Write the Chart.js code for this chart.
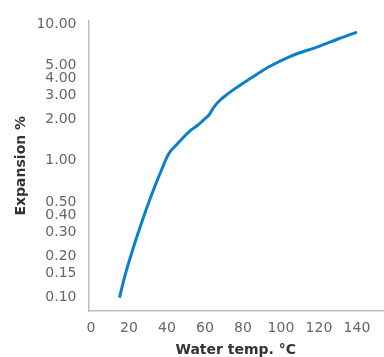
<!DOCTYPE html>
<html>
<head>
<meta charset="utf-8">
<script src="https://cdn.jsdelivr.net/npm/chart.js@4/dist/chart.umd.min.js"></script>
<style>
  html, body { margin: 0; padding: 0; background: #fff; }
  #wrap { width: 384px; height: 357px; }
</style>
</head>
<body>
<div id="wrap"><canvas id="expansionChart"></canvas></div>
<script>
// Water temperature (°C) and expansion (%)
const waterTemps = [15, 18, 22, 28, 32, 37, 41, 45, 52, 56, 60, 62, 65, 68, 72, 76, 84, 93, 105, 120, 130, 140];
const expansionPct = [0.10, 0.147, 0.225, 0.40, 0.57, 0.85, 1.13, 1.31, 1.65, 1.81, 2.03, 2.15, 2.5, 2.78, 3.08, 3.38, 4.0, 4.8, 5.8, 6.85, 7.75, 8.7];

// Axis tick labels
const xTicks = [0, 20, 40, 60, 80, 100, 120, 140];
const yTicks = [0.10, 0.15, 0.20, 0.30, 0.40, 0.50, 1.00, 2.00, 3.00, 4.00, 5.00, 10.00];

document.addEventListener('DOMContentLoaded', () => {
    const ctx = document.getElementById('expansionChart').getContext('2d');
    const points = waterTemps.map((t, i) => ({ x: t, y: expansionPct[i] }));

    new Chart(ctx, {
        type: 'line',
        data: {
            datasets: [{
                data: points,
                borderColor: '#0b7fca',
                borderWidth: 3,
                pointRadius: 0,
                cubicInterpolationMode: 'monotone',
                fill: false
            }]
        },
        options: {
            responsive: true,
            maintainAspectRatio: false,
            animation: false,
            layout: { padding: { left: 13, top: 8, right: 1, bottom: 0 } },
            plugins: { legend: { display: false }, tooltip: { enabled: false } },
            scales: {
                x: {
                    type: 'linear',
                    min: -1.3,
                    max: 153.7,
                    afterBuildTicks: (scale) => { scale.ticks = xTicks.map(v => ({ value: v })); },
                    afterFit: (scale) => { scale.height = 46; },
                    grid: { display: false, drawTicks: false },
                    border: { display: true, color: '#bdbdbd', width: 1.5 },
                    ticks: {
                        autoSkip: false,
                        maxRotation: 0,
                        padding: 9,
                        color: '#666',
                        font: { family: 'DejaVu Sans', size: 14 }
                    },
                    title: {
                        display: true,
                        text: 'Water temp. °C',
                        color: '#333',
                        padding: { top: 0, bottom: 0 },
                        font: { family: 'DejaVu Sans', size: 14, weight: 'bold', lineHeight: 1 }
                    }
                },
                y: {
                    type: 'logarithmic',
                    min: 0.08,
                    max: 10.6,
                    afterBuildTicks: (scale) => { scale.ticks = yTicks.map(v => ({ value: v })); },
                    afterFit: (scale) => { scale.width = 75.5; },
                    grid: { display: false, drawTicks: false },
                    border: { display: true, color: '#bdbdbd', width: 1.5 },
                    ticks: {
                        autoSkip: false,
                        padding: 12,
                        color: '#666',
                        font: { family: 'DejaVu Sans', size: 14 },
                        callback: (value) => Number(value).toFixed(2)
                    },
                    title: {
                        display: true,
                        text: 'Expansion %',
                        color: '#333',
                        padding: { top: 0, bottom: 0 },
                        font: { family: 'DejaVu Sans', size: 14, weight: 'bold' }
                    }
                }
            }
        }
    });
});
</script>
</body>
</html>
